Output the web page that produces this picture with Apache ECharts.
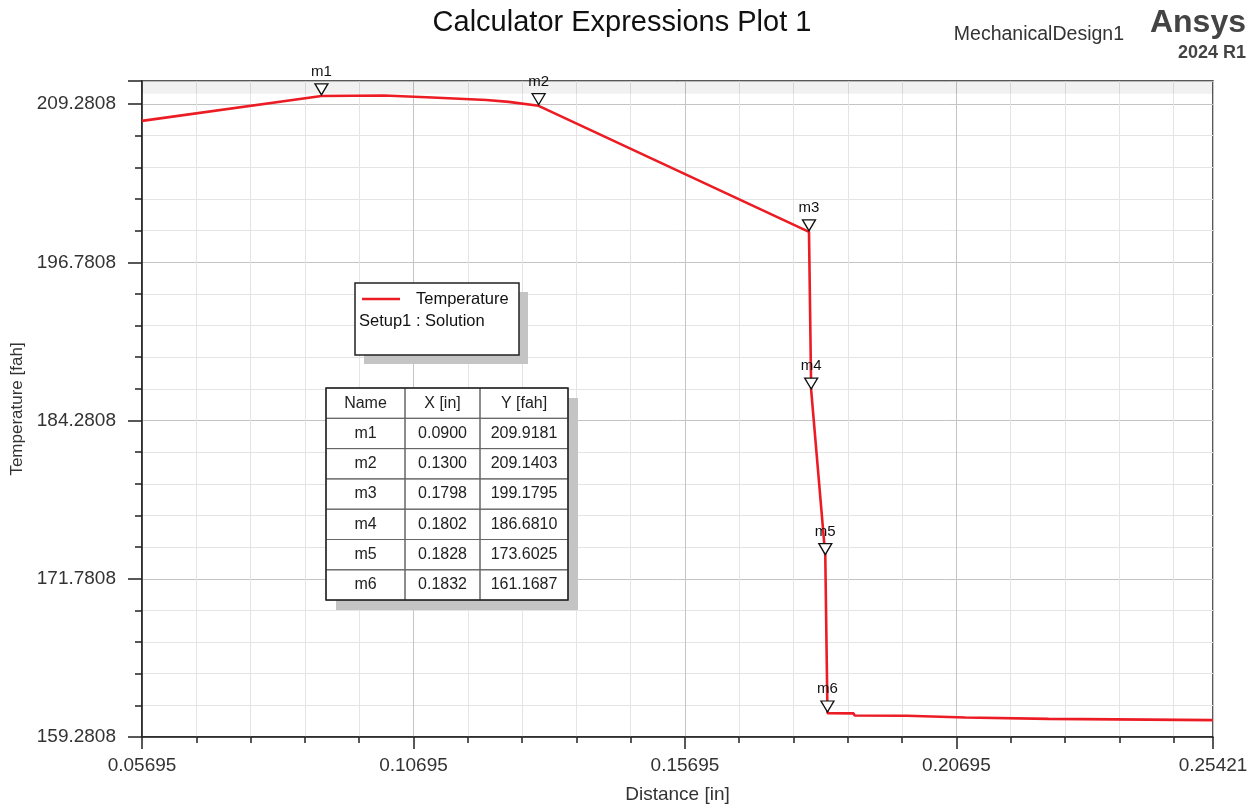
<!DOCTYPE html>
<html><head><meta charset="utf-8">
<script src="https://cdn.jsdelivr.net/npm/echarts@6/dist/echarts.min.js"></script>
<style>html,body{margin:0;padding:0;background:#fff}#c{width:1260px;height:807px}</style>
</head><body><div id="c"></div>
<script>
// ---- data ----
const xTickLabels = ['0.05695', '0.10695', '0.15695', '0.20695', '0.25421'];
const yTickLabels = ['159.2808', '171.7808', '184.2808', '196.7808', '209.2808'];
const yTop = 211.1;
const bandFrom = 210.1;

const distance = [0.05695, 0.0900, 0.1015, 0.1104, 0.1204, 0.1245, 0.1300, 0.1798, 0.1802, 0.1828, 0.1832,
  0.1880, 0.1882, 0.1978, 0.1980, 0.2086, 0.2088, 0.2239, 0.2241, 0.25421];
const temperature = [207.95, 209.918, 209.95, 209.80, 209.60, 209.45, 209.1403, 199.1795, 186.6810, 173.6025, 161.1687,
  161.15, 160.98, 160.96, 160.83, 160.82, 160.72, 160.71, 160.62, 160.61];

const markerNames = ['m1', 'm2', 'm3', 'm4', 'm5', 'm6'];
const markerX = [0.0900, 0.1300, 0.1798, 0.1802, 0.1828, 0.1832];
const markerY = [209.9181, 209.1403, 199.1795, 186.6810, 173.6025, 161.1687];

const tableHeader = ['Name', 'X [in]', 'Y [fah]'];
const legendLines = ['Temperature', 'Setup1 : Solution'];

// ---- derived ----
// axes are measured from their first tick label so that ticks fall on the labelled values
const xMin = +xTickLabels[0], xMax = +xTickLabels[xTickLabels.length - 1];
const xStep = +(+xTickLabels[1] - +xTickLabels[0]).toFixed(6);
const yMin = +yTickLabels[0];
const yStep = +(+yTickLabels[1] - +yTickLabels[0]).toFixed(6);

const lineData = distance.map((d, i) => [d - xMin, temperature[i] - yMin]);
const markerData = markerX.map((d, i) => ({ name: markerNames[i], value: [d - xMin, markerY[i] - yMin] }));

const FONT = 'Liberation Sans, Arial, sans-serif';
const RED = '#ec1c24';

// ---- graphic: header texts, legend box, table ----
const graphics = [];
function txt(text, x, y, align, font, fill, z) {
  return { type: 'text', z: z || 100, style: { text, x, y, align, verticalAlign: 'middle', textAlign: align, textVerticalAlign: 'middle', font, fill } };
}
graphics.push(txt('Calculator Expressions Plot 1', 622, 23, 'center', '29px ' + FONT, '#111'));
graphics.push(txt('MechanicalDesign1', 1124, 35, 'right', '19.5px ' + FONT, '#333'));
graphics.push(txt('Ansys', 1246, 23, 'right', 'bold 32px ' + FONT, '#444'));
graphics.push(txt('2024 R1', 1246, 53, 'right', 'bold 18px ' + FONT, '#444'));

// legend
const lg = { x: 355, y: 283, w: 164, h: 72 };
graphics.push({ type: 'rect', z: 100, shape: { x: lg.x + 9, y: lg.y + 9, width: lg.w, height: lg.h }, style: { fill: '#c4c4c4' } });
graphics.push({ type: 'rect', z: 101, shape: { x: lg.x, y: lg.y, width: lg.w, height: lg.h }, style: { fill: '#fff', stroke: '#222', lineWidth: 1.5 } });
graphics.push({ type: 'line', z: 102, shape: { x1: lg.x + 7, y1: lg.y + 16, x2: lg.x + 45, y2: lg.y + 16 }, style: { stroke: RED, lineWidth: 2.5 } });
graphics.push(txt(legendLines[0], lg.x + 61, lg.y + 16, 'left', '16.5px ' + FONT, '#111', 102));
graphics.push(txt(legendLines[1], lg.x + 4, lg.y + 38, 'left', '16.5px ' + FONT, '#111', 102));

// table
const tb = { x: 326, y: 388, cols: [79, 75, 88], rowH: 30.3 };
const nRows = markerNames.length + 1;
const tbW = tb.cols.reduce((a, b) => a + b, 0);
const tbH = tb.rowH * nRows;
graphics.push({ type: 'rect', z: 100, shape: { x: tb.x + 10, y: tb.y + 10, width: tbW, height: tbH }, style: { fill: '#c4c4c4' } });
graphics.push({ type: 'rect', z: 101, shape: { x: tb.x, y: tb.y, width: tbW, height: tbH }, style: { fill: '#fff' } });
for (let r = 0; r < nRows; r++) {
  let cx = tb.x;
  const cells = r === 0 ? tableHeader : [markerNames[r - 1], markerX[r - 1].toFixed(4), markerY[r - 1].toFixed(4)];
  for (let c = 0; c < 3; c++) {
    graphics.push({ type: 'rect', z: 102, shape: { x: cx, y: tb.y + r * tb.rowH, width: tb.cols[c], height: tb.rowH }, style: { fill: 'none', stroke: '#666', lineWidth: 1 } });
    graphics.push(txt(cells[c], cx + tb.cols[c] / 2, tb.y + r * tb.rowH + tb.rowH / 2, 'center', '16px ' + FONT, '#222', 103));
    cx += tb.cols[c];
  }
}
graphics.push({ type: 'rect', z: 104, shape: { x: tb.x, y: tb.y, width: tbW, height: tbH }, style: { fill: 'none', stroke: '#222', lineWidth: 1.5 } });

const chart = echarts.init(document.getElementById('c'), null, { renderer: 'canvas' });
chart.setOption({
  animation: false,
  backgroundColor: '#fff',
  textStyle: { fontFamily: FONT },
  grid: { left: 142, top: 81, right: 47, bottom: 70, show: true, borderColor: '#222', borderWidth: 1.5, backgroundColor: '#fff', containLabel: false, outerBoundsMode: 'none' },
  xAxis: {
    type: 'value', min: 0, max: +(xMax - xMin).toFixed(6), interval: xStep,
    name: 'Distance [in]', nameLocation: 'middle', nameGap: 48,
    nameTextStyle: { fontSize: 19, color: '#333', fontFamily: FONT },
    axisLine: { show: true, lineStyle: { color: '#222', width: 1.5 } },
    axisTick: { show: true, length: 12, lineStyle: { color: '#222', width: 1.5 } },
    minorTick: { show: true, splitNumber: 5, length: 6, lineStyle: { color: '#222', width: 1.5 } },
    splitLine: { show: true, lineStyle: { color: '#c4c4c4', width: 1 } },
    minorSplitLine: { show: true, lineStyle: { color: '#e4e4e4', width: 1 } },
    axisLabel: { margin: 19, fontSize: 19, color: '#333', fontFamily: FONT, showMinLabel: true, showMaxLabel: true, hideOverlap: false,
      formatter: v => (v + xMin).toFixed(5) }
  },
  yAxis: {
    type: 'value', min: 0, max: +(yTop - yMin).toFixed(6), interval: yStep,
    name: 'Temperature [fah]', nameLocation: 'middle', nameGap: 111, nameRotate: 90,
    nameTextStyle: { fontSize: 17, color: '#333', fontFamily: FONT },
    axisLine: { show: true, lineStyle: { color: '#222', width: 1.5 } },
    axisTick: { show: true, length: 14, lineStyle: { color: '#222', width: 1.5 } },
    minorTick: { show: true, splitNumber: 5, length: 7, lineStyle: { color: '#222', width: 1.5 } },
    splitLine: { show: true, lineStyle: { color: '#c4c4c4', width: 1 } },
    minorSplitLine: { show: true, lineStyle: { color: '#e4e4e4', width: 1 } },
    axisLabel: { margin: 26, fontSize: 19, color: '#333', fontFamily: FONT, showMinLabel: true, hideOverlap: false,
      formatter: v => (Math.abs(v + yMin - yTop) < 1e-6 ? '' : (v + yMin).toFixed(4)) }
  },
  series: [
    {
      type: 'line', name: 'Temperature', data: lineData, showSymbol: false, symbol: 'none',
      lineStyle: { color: RED, width: 2.6 }, itemStyle: { color: RED }, silent: true, z: 3,
      markArea: { silent: true, itemStyle: { color: 'rgba(0,0,0,0.055)' }, data: [[{ yAxis: bandFrom - yMin }, { yAxis: yTop - yMin }]] }
    },
    {
      type: 'scatter', name: 'markers', data: markerData, silent: true, z: 5,
      symbol: 'path://M0,0 L12,0 L6,10 Z', symbolSize: [13, 11], symbolOffset: [0, '-60%'],
      itemStyle: { color: '#fff', borderColor: '#111', borderWidth: 1.3, opacity: 1 },
      label: { show: true, position: 'top', distance: 4, formatter: p => p.name, fontSize: 15, color: '#111', fontFamily: FONT }
    }
  ],
  graphic: graphics
});
</script></body></html>
